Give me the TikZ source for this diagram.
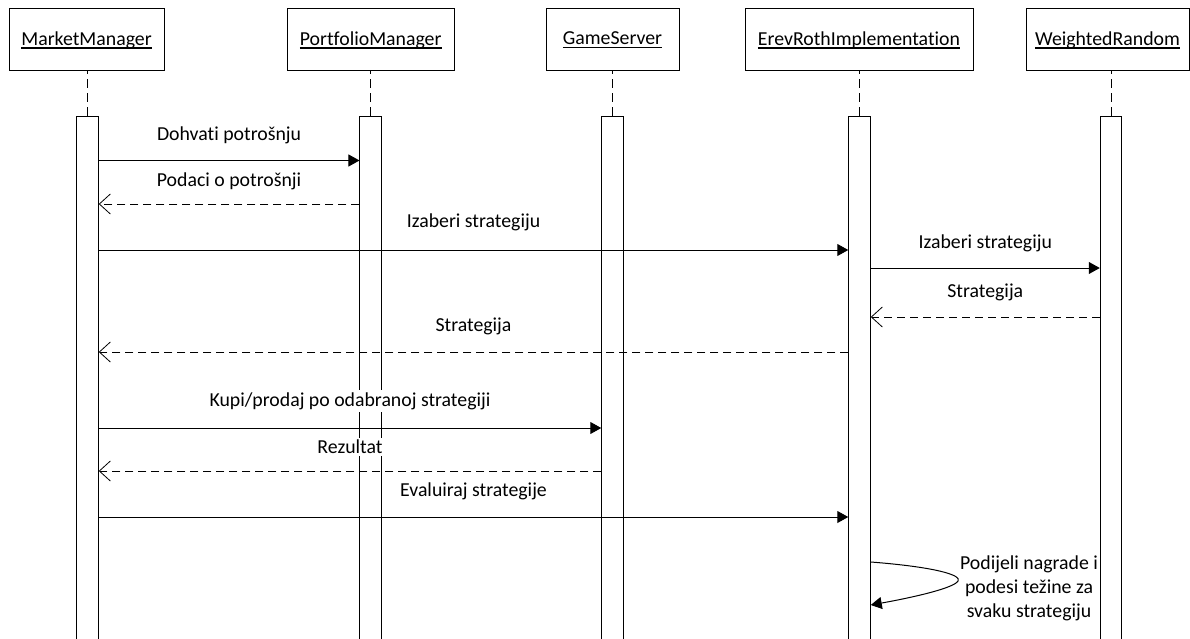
\documentclass[tikz,border=0pt]{standalone}
\usepackage{fontspec}
\setmainfont{Carlito}[Ligatures={NoCommon,NoContextual}]
\usetikzlibrary{arrows.meta}
% underline set just below the baseline, through the descenders
\newcommand\ulname[1]{\setbox0\hbox{#1}\rlap{\vrule height -2.2pt depth 3.4pt width \wd0}\box0}
\begin{document}
\begin{tikzpicture}[x=1pt,y=-1pt,
  every node/.style={font=\fontsize{19.8}{24}\selectfont},
  objbox/.style={draw,line width=1pt,minimum height=62pt,inner sep=0pt},
  actbar/.style={draw,fill=white,line width=1pt,minimum width=21.5pt,minimum height=540pt,anchor=north,inner sep=0pt},
  lifeline/.style={line width=1pt,dash pattern=on 9pt off 5pt},
  msg/.style={line width=1pt,-{Triangle[length=11pt,width=12pt]}},
  reply/.style={line width=1pt,dash pattern=on 8pt off 5pt,-{Straight Barb[length=11pt,width=20pt,line width=0.8pt]}},
  lbl/.style={fill=white,inner xsep=1pt,inner ysep=2pt}]
\useasboundingbox (0,0) rectangle (1190,639);
\clip (0,0) rectangle (1190,639);

% participants
\node[objbox,minimum width=155pt] (mmBox) at (86.5,40) {\ulname{MarketManager}};
\node[objbox,minimum width=167pt] (pmBox) at (370.7,40) {\ulname{PortfolioManager}};
\node[objbox,minimum width=133pt] (gsBox) at (612.5,40) {\ulname{GameServer}};
\node[objbox,minimum width=228pt] (erBox) at (859,40) {\ulname{ErevRothImplementation}};
\node[objbox,minimum width=163pt] (wrBox) at (1107.5,40) {\ulname{WeightedRandom}};

% activation bars
\node[actbar] (mmBar) at (87.5,116) {};
\node[actbar] (pmBar) at (370.7,116) {};
\node[actbar] (gsBar) at (612.5,116) {};
\node[actbar] (erBar) at (859.5,116) {};
\node[actbar] (wrBar) at (1111,116) {};

% lifelines
\foreach \n in {mm,pm,gs,er,wr}
  \draw[lifeline] (\n Bar.north) -- (\n Bar.north |- \n Box.south);

% messages
\draw[msg] (mmBar.east |- 0,160.5) -- node[lbl,yshift=25.5pt] {Dohvati potrošnju} (pmBar.west |- 0,160.5);
\draw[reply] (pmBar.west |- 0,204) -- node[lbl,yshift=23pt] {Podaci o potrošnji} (mmBar.east |- 0,204);
\draw[msg] (mmBar.east |- 0,250) -- node[lbl,yshift=27.5pt] {Izaberi strategiju} (erBar.west |- 0,250);
\draw[msg] (erBar.east |- 0,268) -- node[lbl,yshift=25pt] {Izaberi strategiju} (wrBar.west |- 0,268);
\draw[reply] (wrBar.west |- 0,317) -- node[lbl,yshift=25pt] {Strategija} (erBar.east |- 0,317);
\draw[reply] (erBar.west |- 0,352) -- node[lbl,yshift=26pt] {Strategija} (mmBar.east |- 0,352);
\draw[msg] (mmBar.east |- 0,428) -- node[lbl,yshift=27pt] {Kupi/prodaj po odabranoj strategiji} (gsBar.west |- 0,428);
\draw[reply] (gsBar.west |- 0,471) -- node[lbl,yshift=24pt] {Rezultat} (mmBar.east |- 0,471);
\draw[msg] (mmBar.east |- 0,517) -- node[lbl,yshift=26pt] {Evaluiraj strategije} (erBar.west |- 0,517);

% self call on ErevRothImplementation
\coordinate (loopStart) at (erBar.east |- 0,562);
\coordinate (loopEnd) at (erBar.east |- 0,605);
\draw[msg] (loopStart) .. controls (935,567) and (962,575) .. (958,581)
  .. controls (954,588) and (915,597) .. (loopEnd);
\node[align=center] (loopLbl) at (1029,588) {Podijeli nagrade i\\podesi težine za\\svaku strategiju};
\end{tikzpicture}
\end{document}
